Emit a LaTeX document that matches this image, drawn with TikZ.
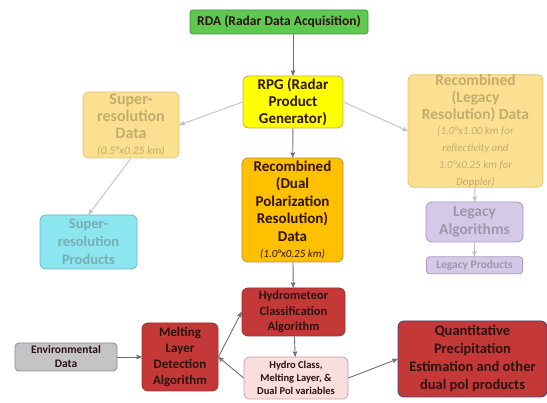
\documentclass[tikz,border=0pt]{standalone}
\usepackage{fontspec}
\setmainfont{Carlito}[BoldFont={Carlito Bold}, ItalicFont={Carlito Italic}]
\usetikzlibrary{positioning, arrows}
\definecolor{rdagreen}{RGB}{95,200,80}
\definecolor{rdaedge}{RGB}{60,150,60}
\definecolor{rpgyellow}{RGB}{255,255,0}
\definecolor{rpgedge}{RGB}{205,170,60}
\definecolor{dpgold}{RGB}{255,192,0}
\definecolor{dpedge}{RGB}{190,140,50}
\definecolor{paleorange}{RGB}{252,224,145}
\definecolor{paleedge}{RGB}{228,195,115}
\definecolor{paletext}{RGB}{198,172,108}
\definecolor{palecyan}{RGB}{140,230,240}
\definecolor{cyanedge}{RGB}{105,185,205}
\definecolor{cyantext}{RGB}{120,172,182}
\definecolor{palelilac}{RGB}{212,202,232}
\definecolor{lilacedge}{RGB}{165,152,192}
\definecolor{lilactext}{RGB}{160,150,172}
\definecolor{algred}{RGB}{196,56,56}
\definecolor{algedge}{RGB}{150,50,50}
\definecolor{darktext}{RGB}{45,18,18}
\definecolor{qpeedge}{RGB}{60,70,120}
\definecolor{envgray}{RGB}{196,196,198}
\definecolor{envedge}{RGB}{140,140,150}
\definecolor{palepink}{RGB}{249,222,222}
\definecolor{pinkedge}{RGB}{212,160,160}
\definecolor{linegray}{RGB}{110,110,122}
\definecolor{fadegray}{RGB}{192,192,202}
% small italic lines under the bold titles
\newcommand{\sizenote}{\fontsize{11}{14.5}\selectfont\mdseries\itshape}
\tikzset{
>=stealth', % small bold heads
box/.style={draw, rounded corners=6pt, align=center, inner sep=0pt, line width=0.8pt},
strong/.style={box, text=darktext},
faded/.style={box, text=paletext, fill=paleorange, draw=paleedge},
flow/.style={->, draw=linegray, line width=0.9pt},
fadeflow/.style={->, draw=fadegray, line width=0.9pt},
}
\begin{document}
\begin{tikzpicture}[x=1pt, y=-1pt]
\useasboundingbox (0,0) rectangle (547,403);

% top of the chain
\node[strong, fill=rdagreen, draw=rdaedge, rounded corners=3pt, minimum width=178pt, minimum height=24pt,
      font=\fontsize{13.5}{15}\selectfont\bfseries] (rda) at (279,22)
      {RDA (Radar Data Acquisition)};
\node[strong, fill=rpgyellow, draw=rpgedge, minimum width=100pt, minimum height=52pt,
      font=\fontsize{15}{17}\selectfont\bfseries] (rpg) at (293,102)
      {RPG (Radar\\Product\\Generator)};

% side branches
\node[faded, minimum width=96pt, minimum height=66pt,
      font=\fontsize{16}{17}\selectfont\bfseries] (srdata) at (131,125)
      {Super-\\resolution\\Data\\[-1pt]\fontsize{11.5}{13}\selectfont\mdseries\itshape (0.5°x0.25 km)};
\node[faded, minimum width=135pt, minimum height=112pt,
      font=\fontsize{15.5}{17}\selectfont\bfseries] (legdata) at (475.5,131)
      {Recombined\\(Legacy\\Resolution) Data\\[-2pt]
       \sizenote (1.0°x1.00 km for\\\sizenote reflectivity and\\\sizenote 1.0°x0.25 km for\\\sizenote Doppler)};
\node[box, fill=palecyan, draw=cyanedge, text=cyantext, minimum width=97pt, minimum height=54pt,
      font=\fontsize{14.5}{18}\selectfont\bfseries] (srprod) at (88.5,242)
      {Super-\\resolution\\Products};
\node[box, fill=palelilac, draw=lilacedge, text=lilactext, minimum width=97pt, minimum height=40pt,
      font=\fontsize{15.5}{18.5}\selectfont\bfseries] (legalg) at (474.5,222)
      {Legacy\\Algorithms};
\node[box, fill=palelilac, draw=lilacedge, text=lilactext, rounded corners=3pt, minimum width=96pt, minimum height=17pt,
      font=\fontsize{11.5}{12}\selectfont\bfseries, below=14pt of legalg] (legprod)
      {Legacy Products};

% dual pol chain
\node[strong, fill=dpgold, draw=dpedge, minimum width=101pt, minimum height=104pt,
      font=\fontsize{15}{17.4}\selectfont\bfseries] (dpdata) at (292.5,210)
      {Recombined\\(Dual\\Polarization\\Resolution)\\Data\\[-1pt]\sizenote (1.0°x0.25 km)};
\node[strong, fill=algred, draw=algedge, minimum width=103pt, minimum height=48pt,
      font=\fontsize{12.5}{15.5}\selectfont\bfseries] (hca) at (293.5,312)
      {Hydrometeor\\Classification\\Algorithm};
\node[strong, fill=algred, draw=algedge, minimum width=76pt, minimum height=68pt,
      font=\fontsize{13}{16}\selectfont\bfseries] (mlda) at (180,357)
      {Melting\\Layer\\Detection\\Algorithm};
\node[strong, fill=envgray, draw=envedge, rounded corners=4pt, minimum width=102pt, minimum height=28pt,
      font=\fontsize{11.5}{14}\selectfont\bfseries] (env) at (66,357)
      {Environmental\\Data};
\node[strong, fill=palepink, draw=pinkedge, minimum width=104pt, minimum height=42pt,
      font=\fontsize{10.5}{13}\selectfont\bfseries] (hcv) at (296,378)
      {Hydro Class,\\Melting Layer, \&\\Dual Pol variables};
\node[strong, fill=algred, draw=qpeedge, minimum width=149pt, minimum height=76pt,
      font=\fontsize{14.5}{18}\selectfont\bfseries] (qpe) at (472.5,359)
      {Quantitative\\Precipitation\\Estimation and other\\dual pol products};

\draw[flow] (rpg.north |- rda.south) -- (rpg.north);
\draw[fadeflow] (rpg.west) -- (srdata.east);
\draw[fadeflow] (rpg.east) -- (legdata.west);
\draw[flow] (rpg) -- (dpdata);
\draw[fadeflow] (srdata.south) -- (srprod.north);
\draw[fadeflow] (legdata) -- (legalg);
\draw[fadeflow] (legalg) -- (legprod);
\draw[flow] (dpdata) -- (hca);
\draw[flow] (env) -- (mlda);
\draw[flow] (mlda.east) -- (hca.west);
\draw[flow] (hcv.west) -- (mlda.east);
\draw[flow] (hca) -- (hcv);
\draw[flow] (hcv.east) -- (qpe.west);
\end{tikzpicture}
\end{document}
